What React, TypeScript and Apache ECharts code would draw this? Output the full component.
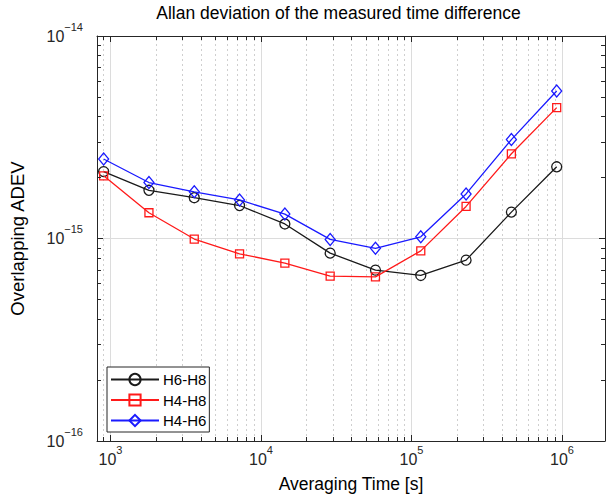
import React, { useEffect, useRef } from "react";
import * as echarts from "echarts";

const TAU = [900, 1800, 3600, 7200, 14400, 28800, 57600, 115200, 230400, 460800, 921600];
const H6_H8 = [2.14e-15, 1.73e-15, 1.59e-15, 1.455e-15, 1.18e-15, 0.847e-15, 0.698e-15, 0.657e-15, 0.782e-15, 1.35e-15, 2.26e-15];
const H4_H8 = [2.04e-15, 1.34e-15, 0.994e-15, 0.84e-15, 0.756e-15, 0.652e-15, 0.646e-15, 0.869e-15, 1.44e-15, 2.62e-15, 4.43e-15];
const H4_H6 = [2.47e-15, 1.89e-15, 1.70e-15, 1.55e-15, 1.32e-15, 0.99e-15, 0.894e-15, 1.02e-15, 1.66e-15, 3.08e-15, 5.35e-15];
const SERIES_NAMES = ["H6-H8", "H4-H8", "H4-H6"];

const X_MIN = 813;
const X_MAX = 1.93e6;
const Y_MIN = 1e-16;
const Y_MAX = 1e-14;
const X_MINOR = [900, 2000, 3000, 4000, 5000, 6000, 7000, 8000, 9000, 20000, 30000, 40000, 50000, 60000, 70000, 80000, 90000, 200000, 300000, 400000, 500000, 600000, 700000, 800000, 900000];
const Y_MINOR = [2e-16, 3e-16, 4e-16, 5e-16, 6e-16, 7e-16, 8e-16, 9e-16, 2e-15, 3e-15, 4e-15, 5e-15, 6e-15, 7e-15, 8e-15, 9e-15];

const TITLE = "Allan deviation of the measured time difference";
const X_NAME = "Averaging Time [s]";
const Y_NAME = "Overlapping ADEV";

const AX = "#262626";
const SANS = "Liberation Sans";

function powLabel(v: number): string {
  const lg = Math.log10(v);
  const e = Math.round(lg);
  if (Math.abs(lg - e) > 1e-6) return "";
  const s = e < 0 ? "\u2212" + String(-e) : String(e);
  return "{base|10}{sup|" + s + "}";
}

function makeRich() {
  return {
    base: { fontSize: 16, lineHeight: 30, color: "#262626" },
    sup: { fontSize: 11, lineHeight: 11, color: "#262626", verticalAlign: "top" },
  };
}

export default function App() {
  const ref = useRef<HTMLDivElement>(null);
  useEffect(() => {
    if (!ref.current) return;
    const chart = echarts.init(ref.current, undefined, { renderer: "svg" });
    const xTickF = Math.pow(10, 4 / 152);
    const yTickF = Math.pow(10, 4 / 202.5);
    const minorTicks: any[] = [];
    X_MINOR.forEach((v) => {
      minorTicks.push([{ coord: [v, Y_MIN] }, { coord: [v, Y_MIN * yTickF] }]);
      minorTicks.push([{ coord: [v, Y_MAX / yTickF] }, { coord: [v, Y_MAX] }]);
    });
    Y_MINOR.forEach((v) => {
      minorTicks.push([{ coord: [X_MIN, v] }, { coord: [X_MIN * xTickF, v] }]);
      minorTicks.push([{ coord: [X_MAX / xTickF, v] }, { coord: [X_MAX, v] }]);
    });

    const mk = (vals: number[]) => TAU.map((t, i) => [t, vals[i]]);
    const common = {
      type: "line",
      showAllSymbol: true,
      emphasis: { disabled: true },
    };
    const option: any = {
      animation: false,
      backgroundColor: "#fff",
      grid: { left: 93, top: 36, width: 513, height: 405, containLabel: false },
      graphic: [
        {
          type: "text",
          x: 338.5,
          y: 13,
          style: {
            text: TITLE,
            fontFamily: SANS,
            fontSize: 17.5,
            fill: "#000",
            textAlign: "center",
            textVerticalAlign: "middle",
          },
        },
      ],
      legend: {
        orient: "vertical",
        left: 107,
        top: 367,
        data: SERIES_NAMES,
        backgroundColor: "#fff",
        borderColor: AX,
        borderWidth: 1,
        borderRadius: 0,
        padding: [5, 3, 4, 3],
        itemWidth: 48,
        itemHeight: 14,
        itemGap: 5.5,
        textStyle: { fontFamily: SANS, fontSize: 15, color: "#000", padding: [0, 0, 0, -1] },
        selectedMode: false,
      },
      xAxis: [
        {
          type: "log",
          logBase: 10,
          min: X_MIN,
          max: X_MAX,
          position: "bottom",
          name: X_NAME,
          nameLocation: "middle",
          nameGap: 34,
          nameTextStyle: { fontFamily: SANS, fontSize: 17.5, color: "#000" },
          axisLine: { show: true, lineStyle: { color: AX, width: 1 } },
          axisTick: { show: true, inside: true, length: 6, lineStyle: { color: AX } },
          axisLabel: { formatter: powLabel, rich: makeRich(), margin: 3 },
          splitLine: { show: true, lineStyle: { color: "#dcdcdc", width: 1 } },
        },
        {
          type: "log",
          logBase: 10,
          min: X_MIN,
          max: X_MAX,
          position: "top",
          axisLine: { show: true, lineStyle: { color: AX, width: 1 } },
          axisTick: { show: true, inside: true, length: 6, lineStyle: { color: AX } },
          axisLabel: { show: false },
          splitLine: { show: false },
        },
      ],
      yAxis: [
        {
          type: "log",
          logBase: 10,
          min: Y_MIN,
          max: Y_MAX,
          position: "left",
          name: Y_NAME,
          nameLocation: "middle",
          nameGap: 70,
          nameRotate: 90,
          nameTextStyle: { fontFamily: SANS, fontSize: 18.5, color: "#000" },
          axisLine: { show: true, lineStyle: { color: AX, width: 1 } },
          axisTick: { show: true, inside: true, length: 6, lineStyle: { color: AX } },
          axisLabel: { formatter: powLabel, rich: makeRich(), margin: 14 },
          splitLine: { show: true, lineStyle: { color: "#dcdcdc", width: 1 } },
        },
        {
          type: "log",
          logBase: 10,
          min: Y_MIN,
          max: Y_MAX,
          position: "right",
          axisLine: { show: true, lineStyle: { color: AX, width: 1 } },
          axisTick: { show: true, inside: true, length: 6, lineStyle: { color: AX } },
          axisLabel: { show: false },
          splitLine: { show: false },
        },
      ],
      series: [
        {
          type: "line",
          name: "__grid",
          data: [],
          xAxisIndex: 0,
          yAxisIndex: 0,
          silent: true,
          markLine: {
            silent: true,
            z: 1,
            symbol: ["none", "none"],
            label: { show: false },
            animation: false,
            lineStyle: { color: "#cfcfcf", type: [2, 3], width: 1 },
            data: [
              ...X_MINOR.map((v) => ({ xAxis: v })),
              ...Y_MINOR.map((v) => ({ yAxis: v })),
            ],
          },
        },
        {
          type: "line",
          name: "__ticks",
          data: [],
          xAxisIndex: 0,
          yAxisIndex: 0,
          silent: true,
          markLine: {
            silent: true,
            z: 6,
            symbol: ["none", "none"],
            label: { show: false },
            animation: false,
            lineStyle: { color: AX, type: "solid", width: 1 },
            data: minorTicks,
          },
        },
        {
          ...common,
          name: SERIES_NAMES[0],
          data: mk(H6_H8),
          z: 3,
          color: "#000",
          symbol: "circle",
          symbolSize: 10,
          lineStyle: { width: 1.3, color: "#1a1a1a" },
          itemStyle: { color: "rgba(255,255,255,0)", borderColor: "#1a1a1a", borderWidth: 1.3 },
        },
        {
          ...common,
          name: SERIES_NAMES[1],
          data: mk(H4_H8),
          z: 4,
          color: "#f00",
          symbol: "rect",
          symbolSize: 8,
          lineStyle: { width: 1.3, color: "#ff1a1a" },
          itemStyle: { color: "rgba(255,255,255,0)", borderColor: "#ff1a1a", borderWidth: 1.3 },
        },
        {
          ...common,
          name: SERIES_NAMES[2],
          data: mk(H4_H6),
          z: 5,
          color: "#00f",
          symbol: "diamond",
          symbolSize: [10, 12],
          lineStyle: { width: 1.3, color: "#1a1aff" },
          itemStyle: { color: "rgba(255,255,255,0)", borderColor: "#1a1aff", borderWidth: 1.3 },
        },
      ],
    };
    chart.setOption(option);
    return () => chart.dispose();
  }, []);
  return (
    <div
      ref={ref}
      style={{ position: "absolute", left: 0, top: 0, width: 608, height: 499, background: "#fff" }}
    />
  );
}
